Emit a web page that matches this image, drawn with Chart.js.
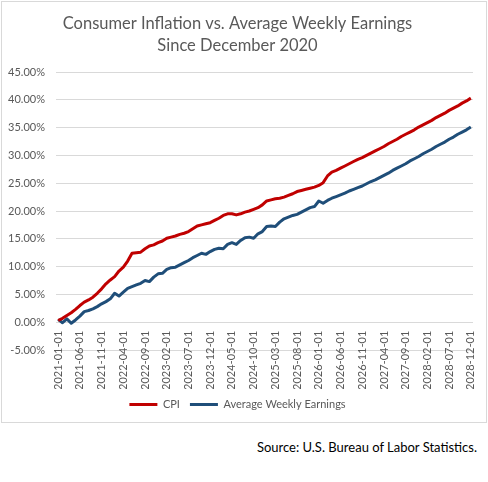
<!DOCTYPE html>
<html><head><meta charset="utf-8">
<script src="https://cdn.jsdelivr.net/npm/chart.js@4.4.1/dist/chart.umd.min.js"></script>
<style>
html,body{margin:0;padding:0;background:#fff;}
body{width:488px;height:482px;position:relative;overflow:hidden;}
#card{position:absolute;left:1px;top:1px;width:486px;height:422px;box-sizing:border-box;border:1px solid #d9d9d9;background:#fff;}
#wrap{position:absolute;left:0;top:0;width:484px;height:420px;}
#src{position:absolute;right:11px;top:439px;font-family:Lato,sans-serif;font-size:13px;line-height:16px;color:#000;white-space:nowrap;}
</style></head><body>
<div id="card"><div id="wrap"><canvas id="c"></canvas></div></div>
<div id="src"></div>
<script>
const titleLines = ['Consumer Inflation vs. Average Weekly Earnings', 'Since December 2020'];
const sourceText = 'Source: U.S. Bureau of Labor Statistics.';
const seriesNames = ['CPI', 'Average Weekly Earnings'];
const seriesColors = ['#C00000', '#1F4E79'];

const categories = [
'2021-01-01','2021-02-01','2021-03-01','2021-04-01','2021-05-01','2021-06-01','2021-07-01','2021-08-01','2021-09-01','2021-10-01','2021-11-01','2021-12-01',
'2022-01-01','2022-02-01','2022-03-01','2022-04-01','2022-05-01','2022-06-01','2022-07-01','2022-08-01','2022-09-01','2022-10-01','2022-11-01','2022-12-01',
'2023-01-01','2023-02-01','2023-03-01','2023-04-01','2023-05-01','2023-06-01','2023-07-01','2023-08-01','2023-09-01','2023-10-01','2023-11-01','2023-12-01',
'2024-01-01','2024-02-01','2024-03-01','2024-04-01','2024-05-01','2024-06-01','2024-07-01','2024-08-01','2024-09-01','2024-10-01','2024-11-01','2024-12-01',
'2025-01-01','2025-02-01','2025-03-01','2025-04-01','2025-05-01','2025-06-01','2025-07-01','2025-08-01','2025-09-01','2025-10-01','2025-11-01','2025-12-01',
'2026-01-01','2026-02-01','2026-03-01','2026-04-01','2026-05-01','2026-06-01','2026-07-01','2026-08-01','2026-09-01','2026-10-01','2026-11-01','2026-12-01',
'2027-01-01','2027-02-01','2027-03-01','2027-04-01','2027-05-01','2027-06-01','2027-07-01','2027-08-01','2027-09-01','2027-10-01','2027-11-01','2027-12-01',
'2028-01-01','2028-02-01','2028-03-01','2028-04-01','2028-05-01','2028-06-01','2028-07-01','2028-08-01','2028-09-01','2028-10-01','2028-11-01','2028-12-01'
];

// percent change since Dec 2020
const cpiValues = [
0.3,0.7,1.2,1.7,2.3,3.0,3.6,4.0,4.5,5.2,6.0,6.9,
7.6,8.2,9.2,9.9,11.0,12.4,12.5,12.6,13.2,13.7,13.9,14.3,
14.6,15.1,15.3,15.5,15.8,16.0,16.3,16.8,17.3,17.5,17.7,17.9,
18.3,18.7,19.2,19.5,19.5,19.3,19.5,19.8,20.0,20.3,20.6,21.1,
21.8,22.0,22.2,22.3,22.5,22.8,23.1,23.5,23.7,23.9,24.1,24.3,
24.6,25.1,26.3,27.0,27.3,27.7,28.1,28.5,28.9,29.3,29.6,30.0,
30.4,30.8,31.2,31.6,32.1,32.5,32.9,33.4,33.8,34.2,34.6,35.1,
35.5,35.9,36.3,36.8,37.2,37.6,38.1,38.5,38.9,39.4,39.8,40.3
];
const earningsValues = [
0.5,-0.1,0.6,-0.2,0.4,1.1,1.9,2.1,2.4,2.8,3.3,3.7,
4.2,5.2,4.7,5.4,6.1,6.4,6.7,7.0,7.5,7.3,8.1,8.7,
8.8,9.5,9.8,9.9,10.3,10.7,11.1,11.6,12.0,12.4,12.2,12.7,
13.1,13.3,13.2,14.0,14.3,14.0,14.7,15.2,15.3,15.1,15.9,16.3,
17.2,17.3,17.2,18.0,18.6,18.9,19.2,19.4,19.8,20.2,20.6,20.8,
21.8,21.4,21.9,22.3,22.6,22.9,23.2,23.6,23.9,24.2,24.5,24.9,
25.3,25.6,26.0,26.4,26.8,27.3,27.7,28.1,28.5,29.0,29.4,29.8,
30.3,30.7,31.1,31.6,32.0,32.4,32.9,33.3,33.8,34.2,34.6,35.1
];
const yMin = -5, yMax = 45, yStep = 5;
const labelEvery = 5;

document.getElementById('src').textContent = sourceText;

const grey = '#595959';

// Excel draws the category labels from the 0% line downward (axis crosses at 0)
const xLabelsAtZero = {
  id: 'xLabelsAtZero',
  afterLayout(chart) {
    const xs = chart.scales.x, ys = chart.scales.y;
    xs.top = ys.getPixelForValue(0) + 8.5;
  }
};

new Chart(document.getElementById('c'), {
  type: 'line',
  data: {
    labels: categories,
    datasets: [
      { label: seriesNames[0], data: cpiValues, borderColor: seriesColors[0], backgroundColor: seriesColors[0], borderWidth: 3, pointRadius: 0, tension: 0, fill: false, borderJoinStyle: 'round' },
      { label: seriesNames[1], data: earningsValues, borderColor: seriesColors[1], backgroundColor: seriesColors[1], borderWidth: 3, pointRadius: 0, tension: 0, fill: false, borderJoinStyle: 'round' }
    ]
  },
  plugins: [xLabelsAtZero],
  options: {
    responsive: true,
    maintainAspectRatio: false,
    animation: false,
    layout: { padding: { left: 0, right: 13, top: 0, bottom: 2 } },
    plugins: {
      tooltip: { enabled: false },
      title: {
        display: true,
        text: titleLines,
        color: grey,
        font: { family: 'Lato', size: 16.5, weight: 'normal', lineHeight: 22 / 16.5 },
        padding: { top: 11, bottom: 15 }
      },
      legend: {
        position: 'bottom',
        labels: {
          color: grey,
          font: { family: 'Lato', size: 11 },
          usePointStyle: true,
          pointStyle: 'line',
          pointStyleWidth: 28,
          padding: 10
        }
      }
    },
    scales: {
      x: {
        type: 'category',
        offset: true,
        grid: { display: false, drawTicks: false },
        border: { display: false },
        ticks: {
          autoSkip: false,
          minRotation: 90,
          maxRotation: 90,
          padding: 0,
          color: grey,
          font: { family: 'Lato', size: 11 },
          callback: function (v, i) { return i % labelEvery === 0 ? categories[i] : ''; }
        },
        afterFit: function (s) { s.height = 39; }
      },
      y: {
        min: yMin,
        max: yMax,
        grid: { color: '#d9d9d9', lineWidth: 1, drawTicks: false },
        border: { display: false },
        ticks: {
          stepSize: yStep,
          padding: 11,
          color: grey,
          font: { family: 'Lato', size: 11 },
          callback: function (v) { return v.toFixed(2) + '%'; }
        },
        afterFit: function (s) { s.width = 54; }
      }
    }
  }
});
</script>
</body></html>
